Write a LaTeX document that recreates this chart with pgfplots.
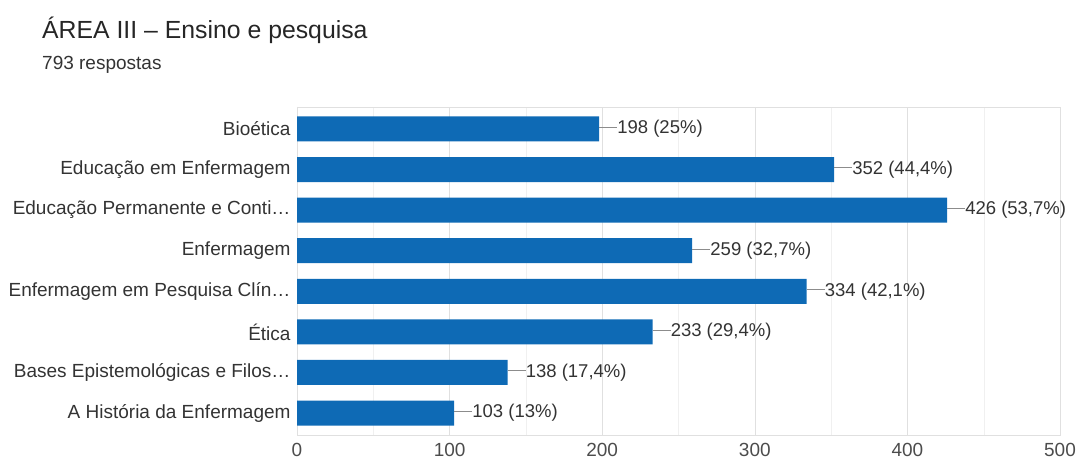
\documentclass[border=0pt]{standalone}
\usepackage{pgfplots}
\pgfplotsset{compat=1.18}
\usepackage{pgfplotstable}
\usepackage{fontspec}
\setmainfont{Liberation Sans}
\definecolor{barblue}{RGB}{14,106,181}
\definecolor{txt}{RGB}{51,51,51}
\pgfplotstableread[col sep=semicolon]{
y;x;label
0;198;198 (25\%)
1;352;352 (44,4\%)
2;426;426 (53,7\%)
3;259;259 (32,7\%)
4;334;334 (42,1\%)
5;233;233 (29,4\%)
6;138;138 (17,4\%)
7;103;103 (13\%)
}\datatable
\begin{document}
\begin{tikzpicture}
\path[use as bounding box] (0pt,0pt) rectangle (1078pt,463pt);
\node[anchor=base west, inner sep=0pt, font=\fontsize{24.8}{28}\selectfont, text=black!85] at (42pt,424pt) {ÁREA III – Ensino e pesquisa};
\node[anchor=base west, inner sep=0pt, font=\fontsize{19}{21}\selectfont, text=txt] at (42pt,393pt) {793 respostas};
\begin{axis}[
  at={(297pt,28pt)}, anchor=south west,
  scale only axis, width=763pt, height=328pt,
  xbar, bar width=25pt,
  xmin=0, xmax=500, ymin=-0.54, ymax=7.54,
  y dir=reverse,
  ytick={0,...,7},
  yticklabels={Bioética, Educação em Enfermagem, Educação Permanente e Conti…, Enfermagem, Enfermagem em Pesquisa Clín…, Ética, Bases Epistemológicas e Filos…, A História da Enfermagem},
  xtick={0,100,...,500},
  minor xtick={50,150,...,450},
  xmajorgrids, xminorgrids,
  major grid style={color=black!12},
  minor grid style={color=black!6},
  axis line style={black!12},
  tick style={draw=none},
  extra x ticks={0}, extra x tick labels={},
  extra x tick style={grid style={black!55, line width=0.8pt}},
  /pgf/number format/assume math mode=true,
  ticklabel style={font=\fontsize{19}{21}\selectfont},
  yticklabel style={text=txt, inner sep=2pt},
  xticklabel style={text=black!70, yshift=-5pt},
  point meta=explicit symbolic,
  nodes near coords={\textcolor{black!45}{\rule[0.33em]{18pt}{0.7pt}}\pgfplotspointmeta},
  nodes near coords align=horizontal,
  every node near coord/.append style={anchor=west, inner sep=0pt, font=\fontsize{18.5}{21}\selectfont, text=txt},
]
\addplot[fill=barblue, draw=none] table[x=x, y=y, meta=label] {\datatable};
\end{axis}
\end{tikzpicture}
\end{document}
